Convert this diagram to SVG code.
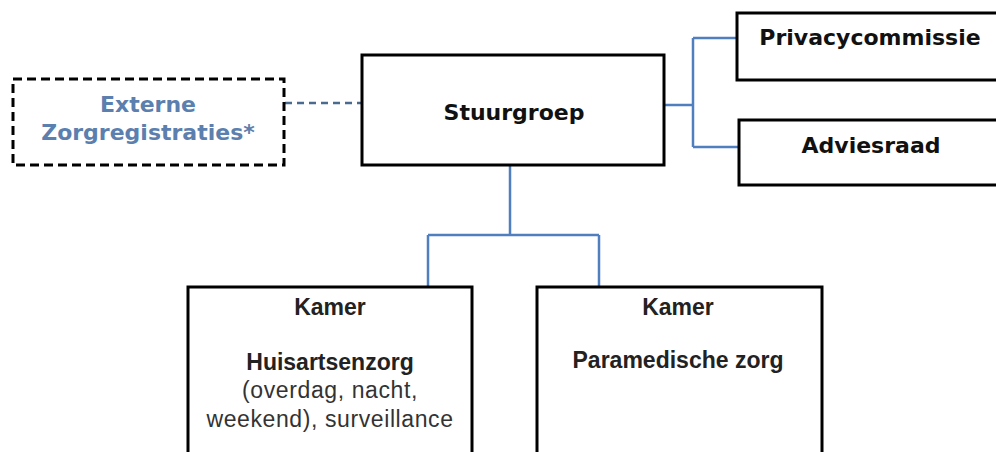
<svg xmlns="http://www.w3.org/2000/svg" width="996" height="452" viewBox="0 0 996 452">
<style>
.box{fill:#fff;stroke:#000;stroke-width:3}
.dbox{fill:#fff;stroke:#000;stroke-width:3;stroke-dasharray:9 5}
.con{fill:none;stroke:#4f7fbf;stroke-width:2.5}
.dcon{fill:none;stroke:#4a6a8e;stroke-width:2.5;stroke-dasharray:7 5}
.t1{font-family:"DejaVu Sans",Verdana,sans-serif;font-weight:bold;font-size:22px;fill:#111;text-anchor:middle}
.tb{font-family:"DejaVu Sans",Verdana,sans-serif;font-weight:bold;font-size:22px;fill:#5b7fae;text-anchor:middle}
.t2{font-family:"Liberation Sans",Arial,sans-serif;font-weight:bold;font-size:23px;fill:#222;text-anchor:middle}
.t3{font-family:"Liberation Sans",Arial,sans-serif;font-size:23px;letter-spacing:0.6px;fill:#333;text-anchor:middle}
</style>
<rect width="996" height="452" fill="#fff"/>
<g id="connectors">
<path class="dcon" d="M285 103 H362"/>
<path class="con" d="M664 105 H693 M693 38 V147 M693 38 H737 M693 147 H739"/>
<path class="con" d="M510 165 V235 M428 235 H599 M428 235 V287 M599 235 V287"/>
</g>
<g id="externe">
<rect class="dbox" x="13" y="79" width="271" height="86"/>
<text class="tb" x="148" y="112">Externe</text>
<text class="tb" x="148" y="140">Zorgregistraties*</text>
</g>
<g id="stuurgroep">
<rect class="box" x="362" y="55" width="302" height="110"/>
<text class="t1" x="514" y="120">Stuurgroep</text>
</g>
<g id="privacycommissie">
<rect class="box" x="737" y="13" width="265" height="67"/>
<text class="t1" x="870" y="45">Privacycommissie</text>
</g>
<g id="adviesraad">
<rect class="box" x="739" y="120" width="265" height="65"/>
<text class="t1" x="871" y="153">Adviesraad</text>
</g>
<g id="kamer-huisarts">
<rect class="box" x="188" y="287" width="284" height="180"/>
<text class="t2" x="330" y="315">Kamer</text>
<text class="t2" x="330" y="370">Huisartsenzorg</text>
<text class="t3" x="330" y="398">(overdag, nacht,</text>
<text class="t3" x="330" y="427">weekend), surveillance</text>
</g>
<g id="kamer-paramedisch">
<rect class="box" x="537" y="287" width="285" height="180"/>
<text class="t2" x="678" y="315">Kamer</text>
<text class="t2" x="678" y="368">Paramedische zorg</text>
</g>
</svg>
